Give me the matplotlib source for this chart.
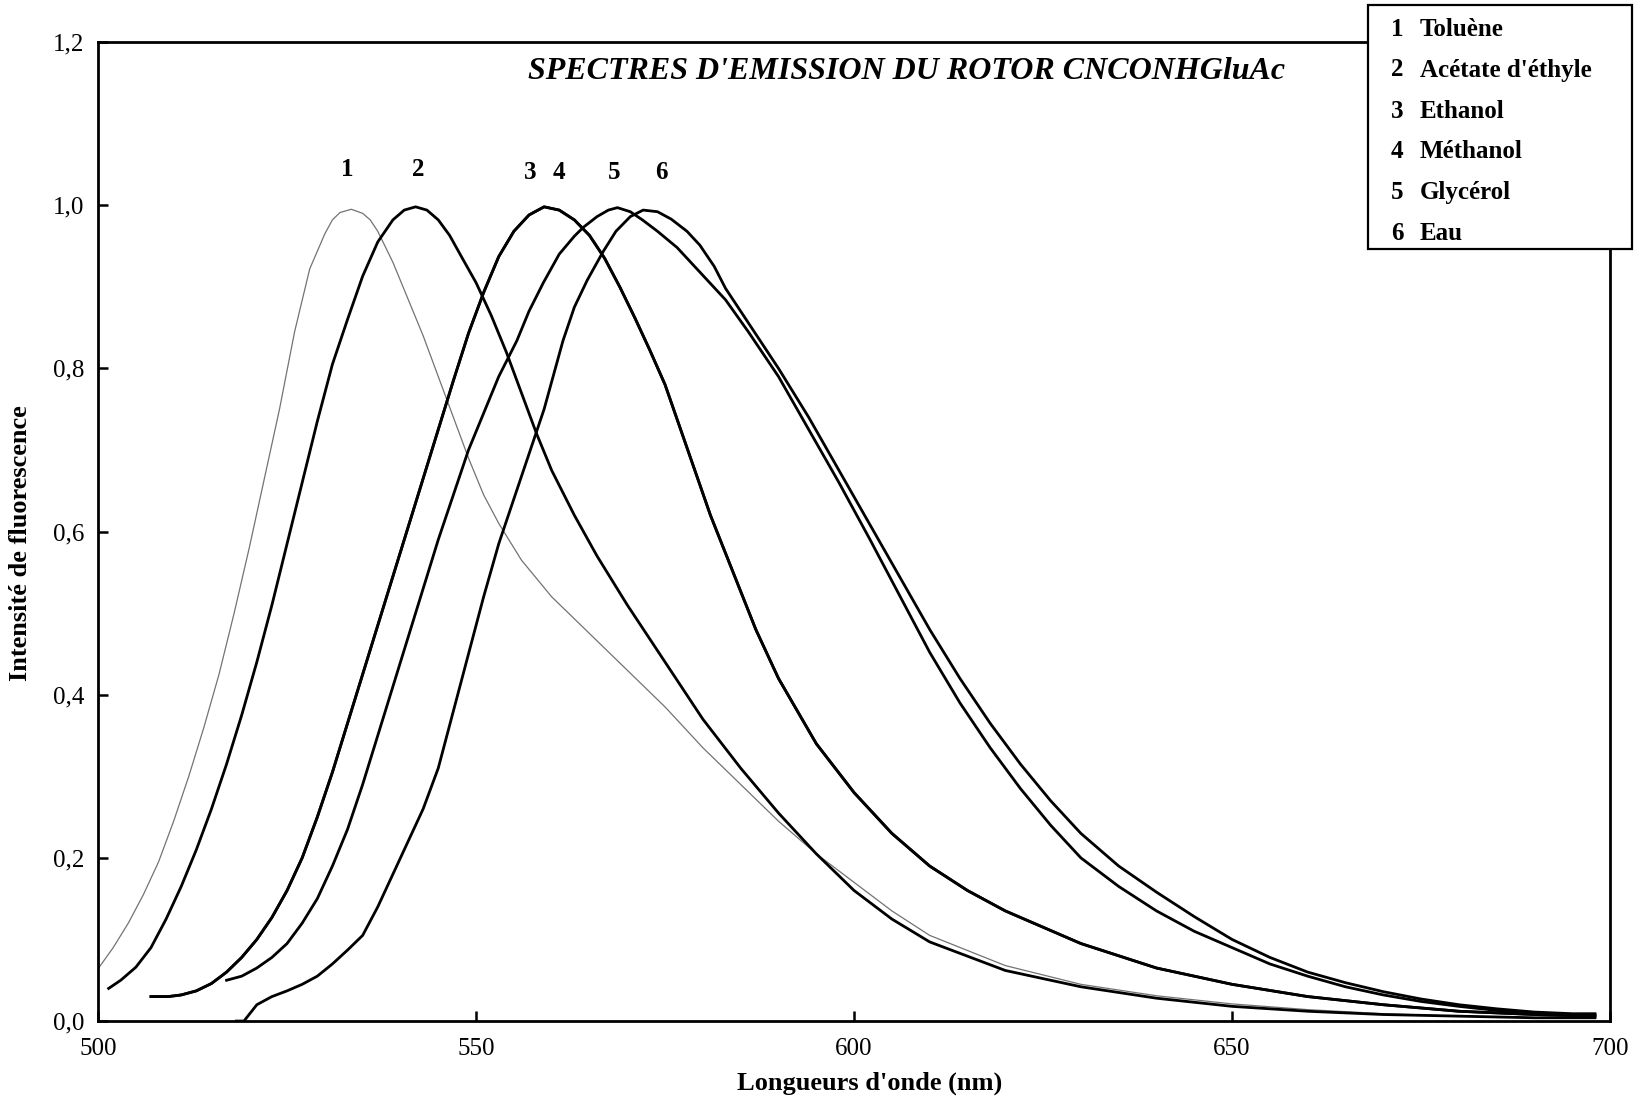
import matplotlib.pyplot as plt
from matplotlib.patches import Rectangle

# readings (wavelength in nm, normalised intensity)
wl_1 = [500, 502, 504, 506, 508, 510, 512, 514, 516, 518, 520, 522, 524, 526, 528, 530,
        531, 532, 533.5, 535, 536, 537, 539, 541, 543, 545, 547, 549, 551, 553, 556, 560,
        565, 570, 575, 580, 585, 590, 595, 600, 605, 610, 620, 630, 640, 650, 660, 670,
        680, 690, 698]
int_1 = [0.064, 0.09, 0.12, 0.155, 0.195, 0.245, 0.30, 0.36, 0.425, 0.50, 0.58, 0.665, 0.75,
         0.845, 0.922, 0.965, 0.982, 0.991, 0.995, 0.99, 0.982, 0.968, 0.93, 0.885, 0.84,
         0.79, 0.74, 0.69, 0.645, 0.61, 0.565, 0.52, 0.475, 0.43, 0.385, 0.335, 0.29, 0.245,
         0.205, 0.17, 0.135, 0.105, 0.068, 0.045, 0.031, 0.021, 0.014, 0.009, 0.006, 0.004,
         0.004]

wl_2 = [501.4, 503, 505, 507, 509, 511, 513, 515, 517, 519, 521, 523, 525, 527, 529, 531,
        533, 535, 537, 539, 540.5, 542, 543.5, 545, 546.5, 548, 550, 552, 554, 556, 558, 560,
        563, 566, 570, 575, 580, 585, 590, 595, 600, 605, 610, 620, 630, 640, 650, 660, 670,
        680, 690, 698]
int_2 = [0.04, 0.05, 0.066, 0.09, 0.125, 0.165, 0.21, 0.26, 0.315, 0.375, 0.44, 0.51, 0.585,
         0.66, 0.735, 0.805, 0.86, 0.913, 0.955, 0.982, 0.994, 0.998, 0.994, 0.982, 0.963,
         0.938, 0.905, 0.865, 0.82, 0.77, 0.72, 0.675, 0.62, 0.57, 0.51, 0.44, 0.37, 0.31,
         0.255, 0.205, 0.16, 0.125, 0.097, 0.062, 0.042, 0.028, 0.018, 0.012, 0.008, 0.006,
         0.004, 0.004]

wl_3 = [507, 509.3, 511, 513, 515, 517, 519, 521, 523, 525, 527, 529, 531, 533, 535, 537,
        539, 541, 543, 545, 547, 549, 551, 553, 555, 557, 559, 561, 563, 565, 567, 569, 571,
        573, 575, 578, 581, 584, 587, 590, 595, 600, 605, 610, 615, 620, 625, 630, 640, 650,
        660, 670, 680, 690, 698]
int_3 = [0.03, 0.03, 0.032, 0.037, 0.046, 0.06, 0.078, 0.10, 0.127, 0.16, 0.20, 0.25, 0.305,
         0.365, 0.425, 0.485, 0.545, 0.605, 0.665, 0.725, 0.785, 0.843, 0.893, 0.937, 0.968,
         0.988, 0.998, 0.994, 0.982, 0.963, 0.935, 0.9, 0.862, 0.822, 0.78, 0.70, 0.62, 0.55,
         0.48, 0.42, 0.34, 0.28, 0.23, 0.19, 0.16, 0.135, 0.115, 0.095, 0.065, 0.045, 0.03,
         0.02, 0.012, 0.008, 0.006]

# 3 and 4 overlap on the scan
wl_4 = list(wl_3)
int_4 = list(int_3)

wl_5 = [517, 519, 521, 523, 525, 527, 529, 531, 533, 535, 537, 539, 541, 543, 545, 547, 549,
        551, 553, 555.4, 557, 558.9, 561, 563, 564.2, 566, 567.5, 568.7, 570.4, 572, 574,
        576.6, 579.6, 583, 586, 590, 594, 598, 602, 606, 610, 614, 618, 622, 626, 630, 635,
        640, 645, 650, 655, 660, 665, 670, 675, 680, 685, 690, 695, 698]
int_5 = [0.05, 0.055, 0.065, 0.078, 0.095, 0.12, 0.15, 0.19, 0.235, 0.29, 0.35, 0.41, 0.47,
         0.53, 0.59, 0.645, 0.70, 0.745, 0.79, 0.834, 0.87, 0.905, 0.94, 0.962, 0.973, 0.986,
         0.994, 0.997, 0.992, 0.982, 0.968, 0.948, 0.918, 0.884, 0.845, 0.79, 0.725, 0.66,
         0.592, 0.522, 0.452, 0.39, 0.335, 0.285, 0.24, 0.20, 0.165, 0.135, 0.11, 0.09, 0.07,
         0.055, 0.042, 0.032, 0.024, 0.018, 0.013, 0.01, 0.008, 0.008]

wl_6 = [518.3, 519.3, 521, 523, 525, 527, 529, 531, 533, 535, 537, 539, 541, 543, 545, 547,
        549, 551, 553, 555, 557, 559, 561.5, 563, 564.7, 566.8, 568.5, 570.4, 572.1, 574,
        575.8, 577.9, 579.6, 581.5, 583, 586, 590, 594, 598, 602, 606, 610, 614, 618, 622,
        626, 630, 635, 640, 645, 650, 655, 660, 665, 670, 675, 680, 685, 690, 695, 698]
int_6 = [0.0, 0.0, 0.02, 0.03, 0.037, 0.045, 0.055, 0.07, 0.087, 0.105, 0.14, 0.18, 0.22,
         0.26, 0.31, 0.38, 0.45, 0.52, 0.585, 0.64, 0.695, 0.75, 0.834, 0.875, 0.908, 0.943,
         0.968, 0.986, 0.994, 0.992, 0.983, 0.968, 0.951, 0.925, 0.898, 0.856, 0.80, 0.74,
         0.675, 0.61, 0.545, 0.48, 0.42, 0.365, 0.315, 0.27, 0.23, 0.19, 0.158, 0.128, 0.10,
         0.078, 0.06, 0.047, 0.036, 0.027, 0.02, 0.015, 0.011, 0.009, 0.009]

solvents = ['Toluène', "Acétate d'éthyle", 'Ethanol', 'Méthanol', 'Glycérol', 'Eau']
peak_numbers = ['1', '2', '3', '4', '5', '6']
peak_label_x = [532.9, 542.3, 557.1, 561.0, 568.3, 574.5]
peak_label_y = [1.044, 1.044, 1.04, 1.04, 1.04, 1.04]

x_ticks = [500, 550, 600, 650, 700]
y_ticks = [0.0, 0.2, 0.4, 0.6, 0.8, 1.0, 1.2]
y_tick_labels = ['0,0', '0,2', '0,4', '0,6', '0,8', '1,0', '1,2']

plt.rcParams['font.family'] = ['Liberation Serif', 'DejaVu Serif']

fig = plt.figure(figsize=(16.48, 11.03), dpi=100, facecolor='white')
ax = fig.add_axes([0.0595, 0.0743, 0.9175, 0.8876])

series = [(wl_1, int_1), (wl_2, int_2), (wl_3, int_3), (wl_4, int_4), (wl_5, int_5), (wl_6, int_6)]
for k, (wl, val) in enumerate(series):
    if k == 0:
        ax.plot(wl, val, color='0.45', lw=0.9, solid_joinstyle='round')
    else:
        ax.plot(wl, val, color='black', lw=2.0, solid_joinstyle='round')

for num, px, py in zip(peak_numbers, peak_label_x, peak_label_y):
    ax.text(px, py, num, ha='center', va='center', fontsize=18, fontweight='bold')

ax.set_xlim(500, 700)
ax.set_ylim(0, 1.2)
ax.set_xticks(x_ticks)
ax.set_yticks(y_ticks)
ax.set_yticklabels(y_tick_labels)
ax.tick_params(direction='in', length=7, width=1.8, labelsize=18)
ax.tick_params(axis='x', pad=12)
ax.tick_params(axis='y', pad=10)
for sp in ax.spines.values():
    sp.set_linewidth(2.0)

fig.text(0.5498, 0.9356, "SPECTRES D'EMISSION DU ROTOR CNCONHGluAc", ha='center', va='center',
         fontsize=23, fontweight='bold', style='italic')
fig.text(870 / 1648, 1 - 1083 / 1103, "Longueurs d'onde (nm)", ha='center', va='center',
         fontsize=19, fontweight='bold')
fig.text(21 / 1648, 1 - 543 / 1103, 'Intensité de fluorescence', ha='center', va='center',
         rotation=90, fontsize=19, fontweight='bold')

# legend box, laid over the top-right corner of the frame
fig.add_artist(Rectangle((0.830, 0.7743), 0.160, 0.2212, transform=fig.transFigure,
                         facecolor='white', edgecolor='black', lw=1.6, zorder=5))
for k, name in enumerate(solvents):
    yy = 1 - (29 + 41 * k) / 1103
    fig.text(1397 / 1648, yy, peak_numbers[k], ha='center', va='center', fontsize=18,
             fontweight='bold', zorder=6)
    fig.text(1420 / 1648, yy, name, ha='left', va='center', fontsize=18,
             fontweight='bold', zorder=6)

fig.savefig('out.png', dpi=100)
